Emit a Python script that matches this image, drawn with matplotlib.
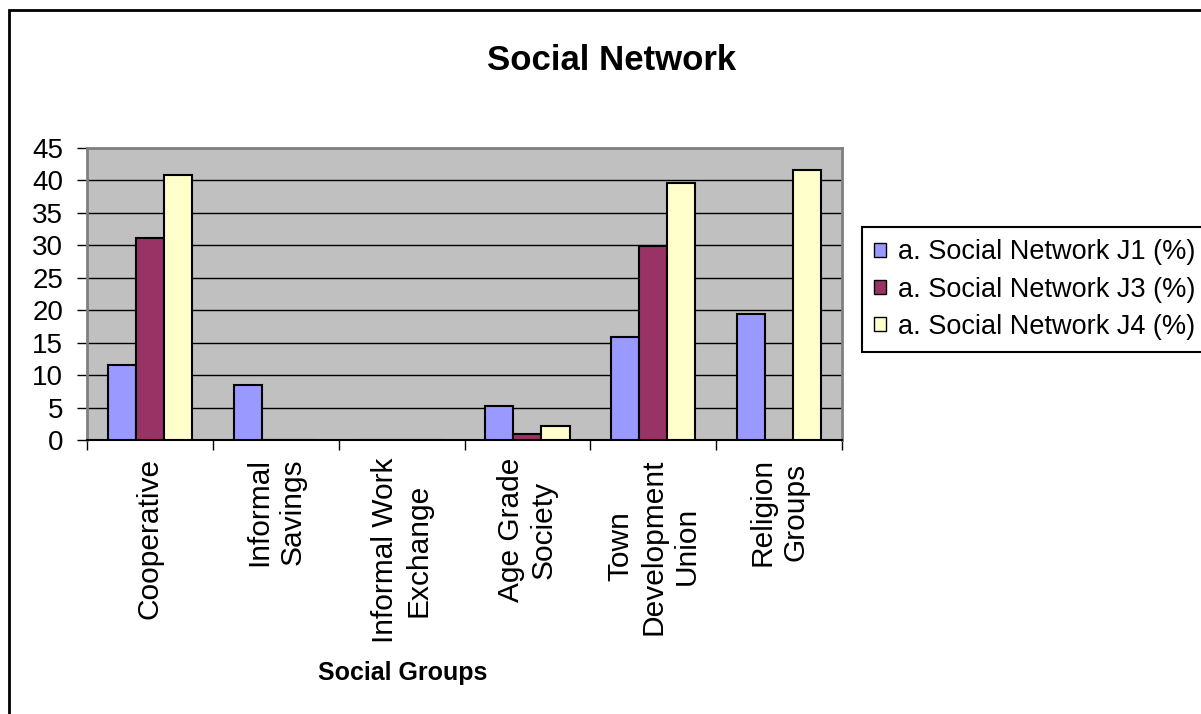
import numpy as np
import matplotlib
matplotlib.use("Agg")
import matplotlib.pyplot as plt
from matplotlib.patches import Rectangle

plt.rcParams['font.family'] = ['Liberation Sans', 'DejaVu Sans']

# data
categories = ["Cooperative", "Informal\nSavings", "Informal Work\nExchange",
              "Age Grade\nSociety", "Town\nDevelopment\nUnion", "Religion\nGroups"]
series_names = ["a. Social Network J1 (%)", "a. Social Network J3 (%)",
                "a. Social Network J4 (%)"]
j1 = [11.6, 8.5, 0, 5.3, 15.9, 19.4]
j3 = [31.1, 0, 0, 1.0, 29.9, 0]
j4 = [40.9, 0, 0, 2.2, 39.6, 41.6]
colors = ["#9999FF", "#993366", "#FFFFCC"]

W, H = 1201, 714
fig = plt.figure(figsize=(W / 100, H / 100), dpi=100)
ax = fig.add_axes([87 / W, 1 - 440 / H, 755 / W, 292 / H])
ax.set_facecolor("#C0C0C0")

x = np.arange(len(categories))
bw = 0.223
for k, (vals, name) in enumerate(zip([j1, j3, j4], series_names)):
    ax.bar(x + (k - 1) * bw, vals, width=bw, color=colors[k],
           edgecolor="black", linewidth=1.5, label=name, zorder=3)

ax.set_xlim(-0.5, len(categories) - 0.5)
ax.set_ylim(0, 45)
ax.set_yticks(np.arange(0, 46, 5))
ax.yaxis.grid(True, color="black", linewidth=1, zorder=1)
ax.set_axisbelow(True)

# boundaries get the tick marks, centres get the labels
ax.set_xticks(np.arange(-0.5, len(categories), 1.0))
ax.set_xticklabels([])
ax.set_xticks(x, minor=True)
ax.set_xticklabels(categories, minor=True, rotation=90, fontsize=21.5,
                   ha="center", va="top", multialignment="center",
                   linespacing=1.24)
ax.tick_params(axis="x", which="major", length=7.2, width=1, color="black")
ax.tick_params(axis="x", which="minor", length=0, pad=13)
ax.tick_params(axis="y", length=7.2, width=1, pad=10, labelsize=20,
               color="black")

for s in ["left", "top", "right"]:
    ax.spines[s].set_color("#808080")
    ax.spines[s].set_linewidth(2)
ax.spines["bottom"].set_color("black")
ax.spines["bottom"].set_linewidth(1.5)

fig.text(612 / W, 1 - 60 / H, "Social Network", ha="center", va="center",
         fontsize=25, fontweight="bold")
fig.text(403 / W, 1 - 673 / H, "Social Groups", ha="center", va="center",
         fontsize=18, fontweight="bold")

leg = ax.legend(loc="upper left", bbox_to_anchor=(862 / W, 1 - 227 / H),
                bbox_transform=fig.transFigure, fontsize=19.5,
                handlelength=0.42, handleheight=0.42, handletextpad=0.45,
                borderpad=0.45, labelspacing=0.42, borderaxespad=0,
                fancybox=False, framealpha=1, edgecolor="black")
leg.get_frame().set_linewidth(1.5)
for p in leg.get_patches():
    p.set_linewidth(1)

# outer chart border
fig.add_artist(Rectangle((9 / W, -0.05), 1.1, 1 - 10 / H + 0.05,
                         transform=fig.transFigure, fill=False,
                         edgecolor="black", linewidth=2))

fig.savefig("out.png", dpi=100)
